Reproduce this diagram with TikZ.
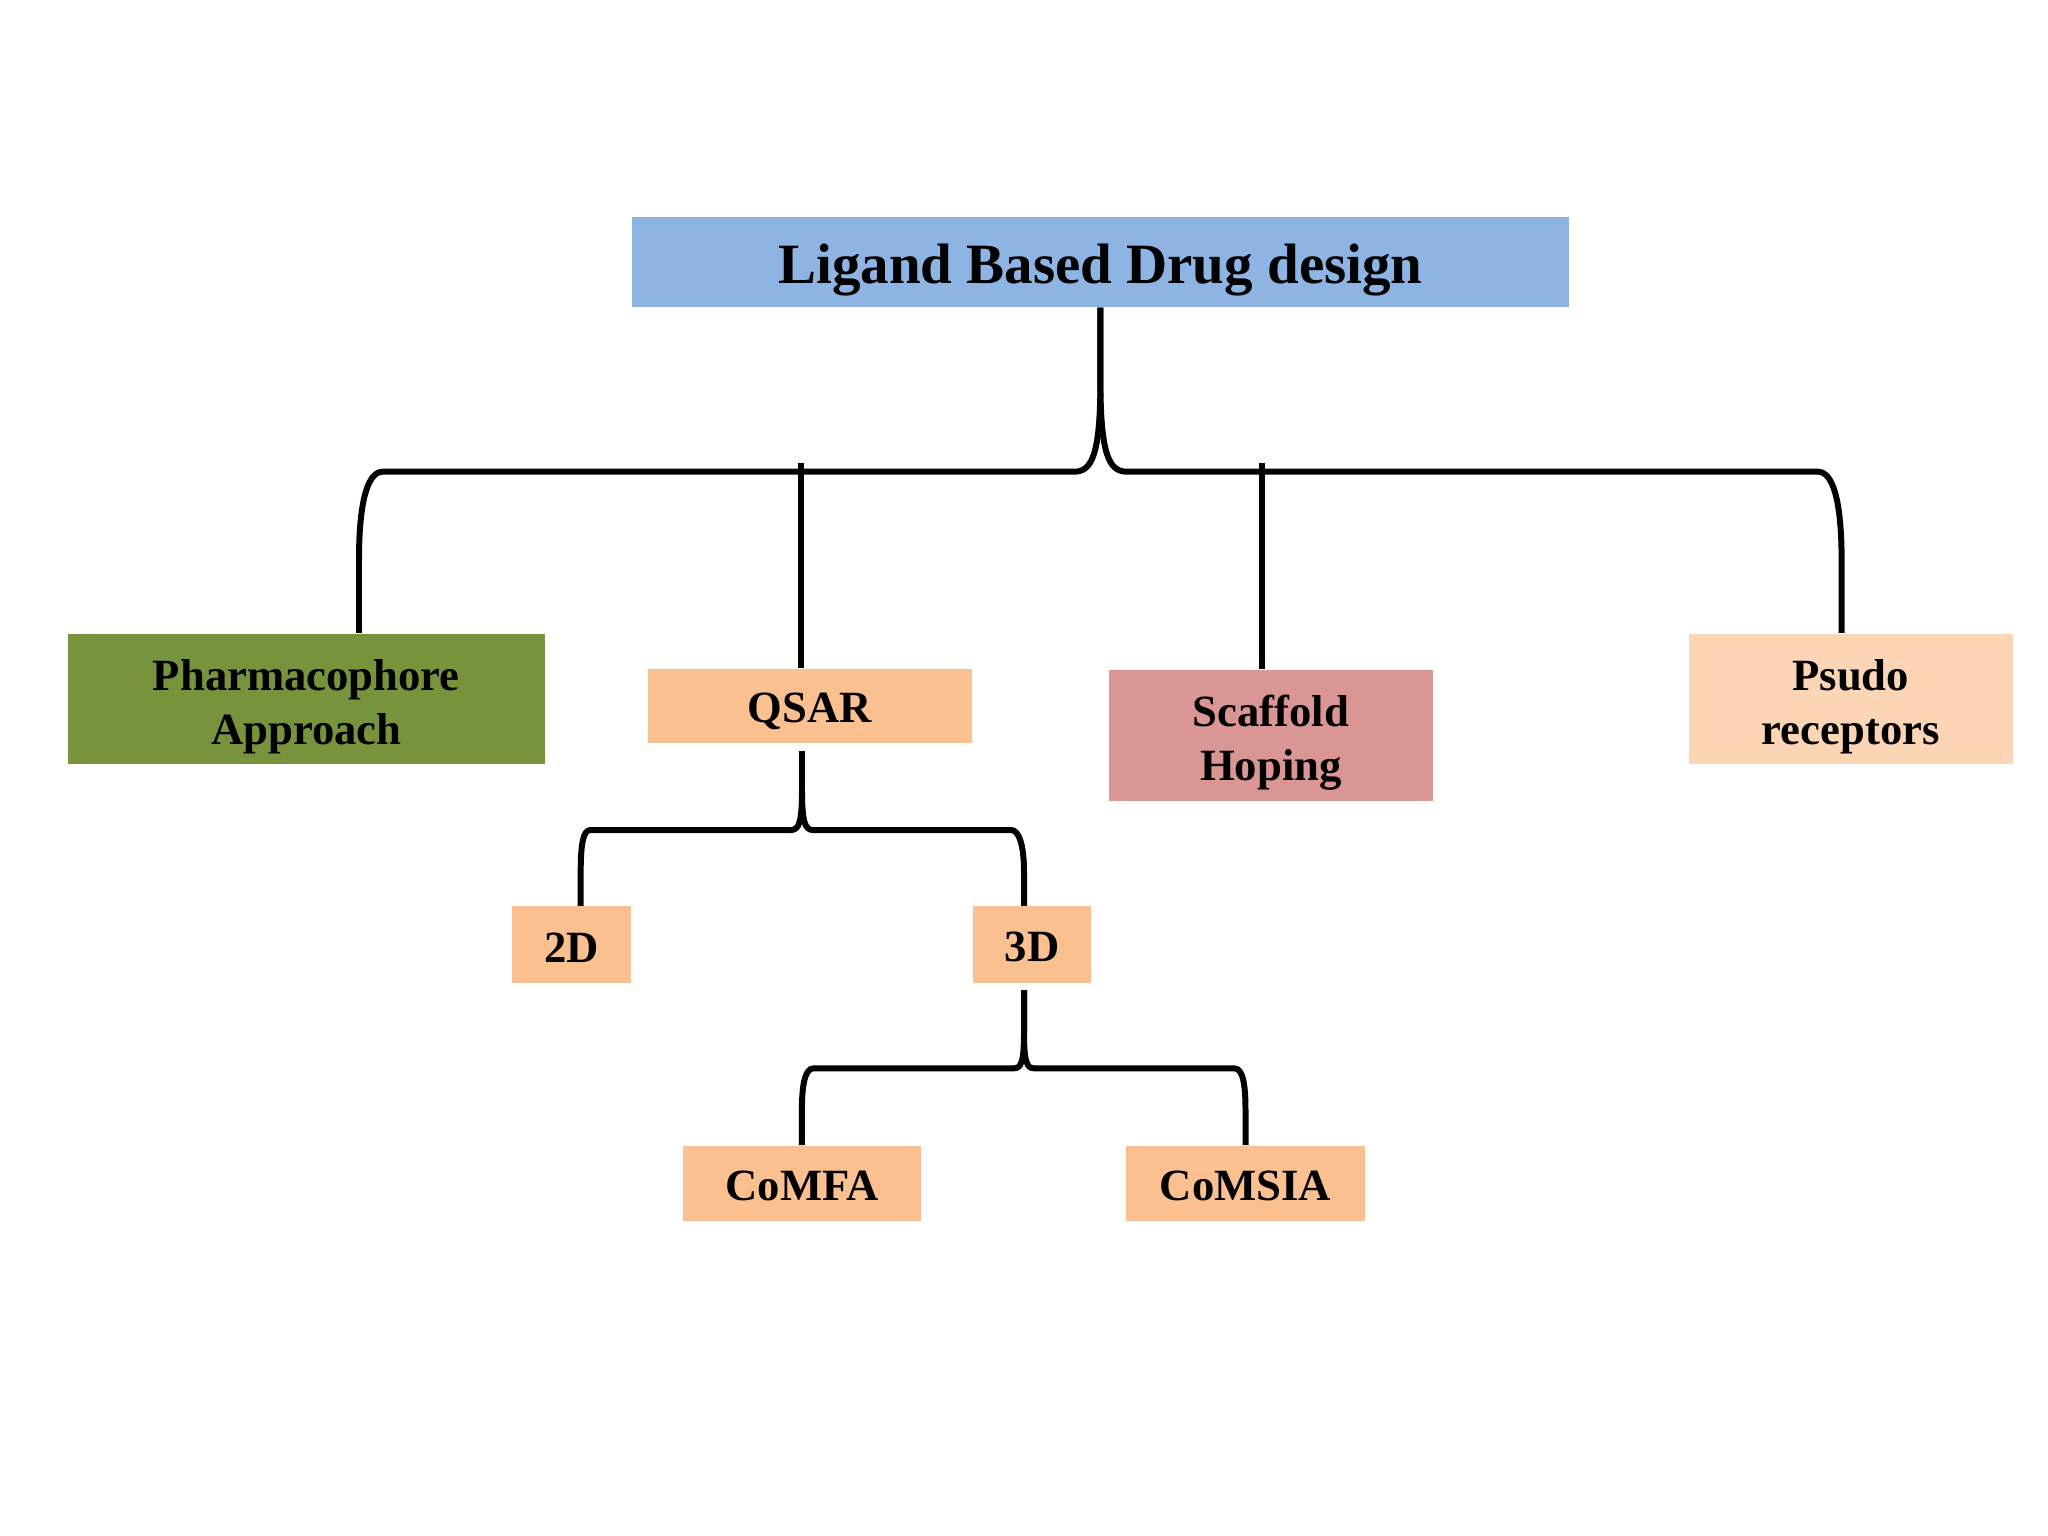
\documentclass[tikz,border=0pt]{standalone}
\usepackage{fontspec}
\setmainfont{Liberation Serif}
\definecolor{cTitle}{HTML}{8EB4E3}
\definecolor{cGreen}{HTML}{77933C}
\definecolor{cOrange}{HTML}{FAC090}
\definecolor{cRed}{HTML}{D99694}
\definecolor{cLight}{HTML}{FCD5B5}
\begin{document}
\begin{tikzpicture}[x=0.01cm,y=-0.01cm,
  box/.style={rectangle, inner sep=0pt},
  txt/.style={inner sep=0pt, align=center, text=black,
    font=\fontsize{12.7}{15.2}\selectfont\bfseries},
  conn/.style={line width=1.7pt, line join=round, draw=black}]
\useasboundingbox (0,0) rectangle (2048,1536);
\fill[white] (0,0) rectangle (2048,1536);
% boxes
\node[box, fill=cTitle, minimum width=9.364cm, minimum height=0.901cm] (title) at (1100.4,261.9) {};
\node[box, fill=cGreen, minimum width=4.767cm, minimum height=1.305cm] (pharm) at (306.3,698.8) {};
\node[box, fill=cOrange, minimum width=3.24cm, minimum height=0.745cm] (qsar) at (809.8,706) {};
\node[box, fill=cRed, minimum width=3.239cm, minimum height=1.306cm] (scaf) at (1270.9,735.3) {};
\node[box, fill=cLight, minimum width=3.239cm, minimum height=1.305cm] (psudo) at (1850.8,698.8) {};
\node[box, fill=cOrange, minimum width=1.19cm, minimum height=0.76cm] (d2) at (571.5,944.5) {};
\node[box, fill=cOrange, minimum width=1.18cm, minimum height=0.76cm] (d3) at (1032,944.5) {};
\node[box, fill=cOrange, minimum width=2.378cm, minimum height=0.757cm] (comfa) at (801.9,1183.6) {};
\node[box, fill=cOrange, minimum width=2.39cm, minimum height=0.757cm] (comsia) at (1245.5,1183.6) {};
% texts
\node[txt, font=\fontsize{16.2}{19}\selectfont\bfseries] (ttitle) at ([yshift=-2.3pt]title.center) {Ligand Based Drug design};
\node[txt] (tpharm) at ([yshift=-2.3pt]pharm.center) {Pharmacophore\\Approach};
\node[txt] (tqsar) at ([yshift=-1.4pt]qsar.center) {QSAR};
\node[txt] (tscaf) at ([yshift=-2.1pt]scaf.center) {Scaffold\\Hoping};
\node[txt] (tpsudo) at ([yshift=-2.3pt]psudo.center) {Psudo\\receptors};
\node[txt] (td2) at ([yshift=-0.8pt]d2.center) {2D};
\node[txt] (td3) at ([yshift=-0.8pt]d3.center) {3D};
\node[txt] (tcomfa) at ([yshift=-0.8pt]comfa.center) {CoMFA};
\node[txt] (tcomsia) at ([yshift=-0.8pt]comsia.center) {CoMSIA};
% helper coordinates
\coordinate (pl) at (359,0);
\coordinate (pr) at (1841.6,0);
\coordinate (qtop) at (801,463);
\coordinate (stop) at (1261.7,463);
\coordinate (qs) at (802,751);
\coordinate (dl) at (580.7,0);
\coordinate (dr) at (1024,0);
\coordinate (ts) at (1024,990);
% top brace
\draw[conn] (title.south) -- (1100.4,380)
  .. controls (1100.4,455) and (1092,471.7) .. (1074,471.7)
  -- (382.7,471.7)
  .. controls (368,471.7) and (359,500) .. (359,560)
  -- (pl |- pharm.north);
\draw[conn] (title.south) -- (1100.4,380)
  .. controls (1100.4,455) and (1109,471.7) .. (1127,471.7)
  -- (1818,471.7)
  .. controls (1832.6,471.7) and (1841.6,500) .. (1841.6,560)
  -- (pr |- psudo.north);
\draw[conn] (qtop) -- (qtop |- qsar.north);
\draw[conn] (stop) -- (stop |- scaf.north);
% QSAR brace
\draw[conn] (qs) -- (802,790)
  .. controls (802,822) and (799,830) .. (791,830)
  -- (590.3,830)
  .. controls (583,830) and (580.7,845) .. (580.7,872)
  -- (dl |- d2.north);
\draw[conn] (qs) -- (802,790)
  .. controls (802,822) and (805,830) .. (813,830)
  -- (1011,830)
  .. controls (1019,830) and (1024,845) .. (1024,872)
  -- (dr |- d3.north);
% 3D brace
\draw[conn] (ts) -- (1024,1033)
  .. controls (1024,1062) and (1021,1068.3) .. (1014,1068.3)
  -- (813.5,1068.3)
  .. controls (805,1068.3) and (801.9,1085) .. (801.9,1110)
  -- (comfa.north);
\draw[conn] (ts) -- (1024,1033)
  .. controls (1024,1062) and (1027,1068.3) .. (1034,1068.3)
  -- (1234.4,1068.3)
  .. controls (1243,1068.3) and (1245.5,1085) .. (1245.5,1110)
  -- (comsia.north);
\end{tikzpicture}
\end{document}
